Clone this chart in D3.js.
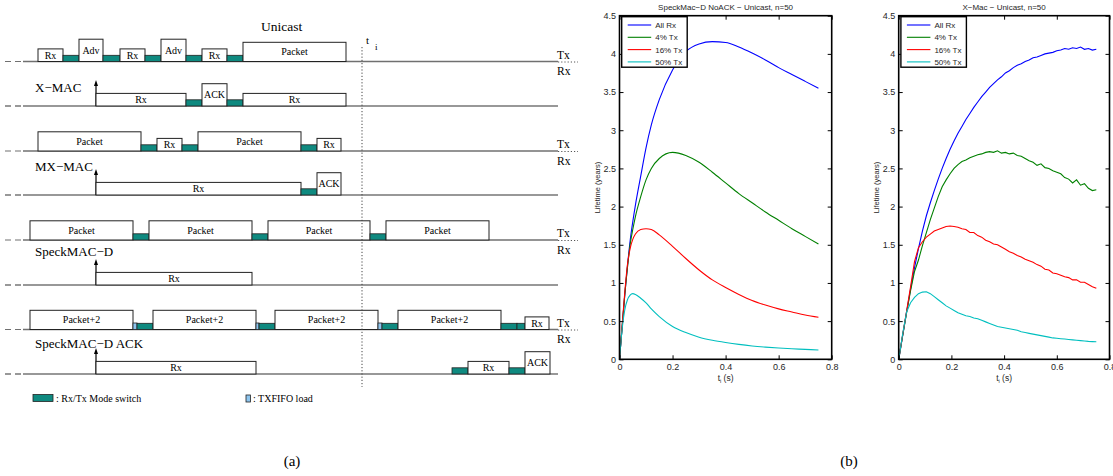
<!DOCTYPE html>
<html>
<head>
<meta charset="utf-8">
<script src="https://cdn.jsdelivr.net/npm/d3@7"></script>
<style>
body { margin: 0; background: #fff; }
svg { display: block; }
.serif { font-family: "Liberation Serif", "Times New Roman", serif; }
.sans { font-family: "Liberation Sans", Arial, Helvetica, sans-serif; }
</style>
</head>
<body>
<svg id="fig" width="1113" height="476"></svg>
<script>
// ---------- (a) timing diagram: [kind, label, start, end] in time units
var xmacTx = [["rx","Rx",8,33],["sw","",33,49],["tall","Adv",49,73],["sw","",73,90],["rx","Rx",90,115],["sw","",115,131],
  ["tall","Adv",131,156],["sw","",156,172],["rx","Rx",172,197],["sw","",197,213],["pkt","Packet",213,316]];
var xmacRx = [["rx","Rx",66,156],["sw","",156,172],["tall","ACK",172,197],["sw","",197,213],["rx","Rx",213,316]];
var mxTx = [["pkt","Packet",8,111],["sw","",111,127],["rx","Rx",127,152],["sw","",152,168],["pkt","Packet",168,271],
  ["sw","",271,287],["rx","Rx",287,311]];
var mxRx = [["rx","Rx",66,271],["sw","",271,287],["tall","ACK",287,311]];
var speckTx = [["pkt","Packet",0,103],["sw","",103,119],["pkt","Packet",119,222],["sw","",222,238],["pkt","Packet",238,340],
  ["sw","",340,356],["pkt","Packet",356,459]];
var speckRx = [["rx","Rx",66,222]];
var ackTx = [["pkt","Packet+2",0,103],["fifo","",103,107],["sw","",107,123],["pkt","Packet+2",123,226],["fifo","",226,229],
  ["sw","",229,245],["pkt","Packet+2",245,348],["fifo","",348,352],["sw","",352,368],["pkt","Packet+2",368,471],
  ["sw","",471,487],["sw","",487,495],["rx","Rx",495,519]];
var ackRx = [["rx","Rx",66,226],["sw","",422,438],["rx","Rx",438,479],["sw","",479,495],["tall","ACK",495,520]];
var wakeTime = 66;      // node wakes (arrow)
var tiTime = 332;       // t_i marker
var rowNames = ["X\u2212MAC", "MX\u2212MAC", "SpeckMAC\u2212D", "SpeckMAC\u2212D ACK"];

// ---------- (b) lifetime curves
var tSpeck = [0,0.01,0.02,0.03,0.04,0.05,0.06,0.08,0.1,0.12,0.15,0.2,0.25,0.3,0.35,0.4,0.45,0.5,0.55,0.6,0.65,0.7,0.75];
var speckAllRx = [0,0.42,0.85,1.22,1.55,1.8,2.02,2.4,2.77,3.07,3.4,3.79,4.03,4.13,4.16,4.15,4.09,4.01,3.92,3.82,3.73,3.64,3.55];
var speck4 = [0,0.42,0.85,1.2,1.5,1.7,1.87,2.13,2.35,2.5,2.63,2.71,2.67,2.58,2.45,2.31,2.17,2.05,1.93,1.82,1.71,1.61,1.51];
var speck16 = [0,0.45,0.88,1.24,1.45,1.57,1.64,1.7,1.71,1.7,1.63,1.48,1.32,1.17,1.04,0.94,0.85,0.77,0.71,0.66,0.62,0.58,0.55];
var speck50 = [0,0.4,0.65,0.78,0.84,0.86,0.85,0.8,0.74,0.66,0.56,0.43,0.35,0.29,0.25,0.22,0.195,0.175,0.16,0.148,0.138,0.13,0.122];

var tXmac = [0,0.015,0.03,0.045,0.06,0.075,0.09,0.105,0.12,0.135,0.15,0.165,0.18,0.195,0.21,0.225,0.24,0.255,0.27,0.285,
  0.3,0.315,0.33,0.345,0.36,0.375,0.39,0.405,0.42,0.435,0.45,0.465,0.48,0.495,0.51,0.525,0.54,0.555,0.57,0.585,
  0.6,0.615,0.63,0.645,0.66,0.675,0.69,0.705,0.72,0.735,0.75];
var xmacAllRx = [0,0.31,0.62,0.92,1.2,1.45,1.68,1.88,2.05,2.21,2.36,2.5,2.63,2.75,2.86,2.96,3.05,3.14,3.22,3.3,
  3.37,3.44,3.5,3.56,3.61,3.66,3.7,3.75,3.78,3.82,3.85,3.87,3.9,3.92,3.95,3.96,3.98,4.0,4.01,4.02,
  4.04,4.05,4.07,4.06,4.08,4.07,4.09,4.06,4.07,4.05,4.06];
var xmac4 = [0,0.31,0.61,0.9,1.15,1.3,1.49,1.66,1.83,1.98,2.13,2.26,2.35,2.43,2.5,2.55,2.59,2.61,2.64,2.66,
  2.68,2.69,2.71,2.72,2.71,2.73,2.7,2.71,2.69,2.7,2.67,2.66,2.63,2.6,2.58,2.54,2.56,2.51,2.5,2.47,
  2.45,2.43,2.38,2.36,2.31,2.35,2.28,2.3,2.24,2.21,2.22];
var xmac16 = [0,0.32,0.63,0.95,1.28,1.46,1.54,1.6,1.64,1.68,1.7,1.72,1.74,1.745,1.74,1.73,1.71,1.7,1.66,1.66,
  1.62,1.6,1.56,1.54,1.51,1.5,1.47,1.44,1.41,1.39,1.36,1.34,1.31,1.29,1.27,1.24,1.22,1.18,1.17,1.13,
  1.12,1.1,1.08,1.07,1.04,1.04,1.01,1.01,0.98,0.95,0.93];
var xmac50 = [0,0.33,0.62,0.74,0.81,0.86,0.88,0.885,0.86,0.82,0.78,0.74,0.7,0.67,0.64,0.61,0.59,0.57,0.56,0.54,
  0.53,0.51,0.49,0.47,0.45,0.43,0.42,0.41,0.4,0.39,0.38,0.36,0.35,0.34,0.33,0.32,0.31,0.3,0.29,0.28,
  0.275,0.27,0.265,0.26,0.255,0.25,0.245,0.24,0.235,0.232,0.23];

var legendNames = ["All Rx", "4% Tx", "16% Tx", "50% Tx"];
var lineColors = ["#0000ff", "#008000", "#ff0000", "#00bfbf"];
var xTicks = [0, 0.2, 0.4, 0.6, 0.8];
var yTicks = [0, 0.5, 1, 1.5, 2, 2.5, 3, 3.5, 4, 4.5];

var svg = d3.select("#fig");

// ================= (a) =================
var xd = d3.scaleLinear().domain([0, 530]).range([30, 560]);
var rowY = [61.5, 106, 151, 195, 240, 285, 329.5, 374];
var nameY = [92, 171, 256, 348];
var boxH = {rx: 12.6, pkt: 19.2, tall: 22.3, sw: 6.2, fifo: 6.5};
var teal = "#0f8a80", fifoCol = "#8ec5ee";
var rows = [xmacTx, xmacRx, mxTx, mxRx, speckTx, speckRx, ackTx, ackRx];

var a = svg.append("g").attr("class", "serif");

a.append("text").attr("x", 261).attr("y", 31).attr("font-size", 13.5).text("Unicast");

rows.forEach(function(segs, i) {
  var y = rowY[i], isTx = i % 2 == 0;
  var g = a.append("g");
  var col = isTx ? "#707070" : "#333";
  g.append("line").attr("x1", 5).attr("x2", 23).attr("y1", y).attr("y2", y)
    .attr("stroke", col).attr("stroke-width", 1.2).attr("stroke-dasharray", "6,4");
  g.append("line").attr("x1", xd(-7)).attr("x2", xd(528)).attr("y1", y).attr("y2", y)
    .attr("stroke", col).attr("stroke-width", isTx ? 1.6 : 1.2);

  if (isTx) {
    g.append("line").attr("x1", xd(528)).attr("x2", xd(548)).attr("y1", y + 0.5).attr("y2", y + 0.5)
      .attr("stroke", "#555").attr("stroke-dasharray", "1.2,2");
    g.append("text").attr("x", 557).attr("y", y - 3).attr("font-size", 11.5).text("Tx");
    g.append("text").attr("x", 557).attr("y", y + 13.5).attr("font-size", 11.5).text("Rx");
  } else {
    var ax = xd(wakeTime);
    g.append("line").attr("x1", ax).attr("x2", ax).attr("y1", y).attr("y2", y - 21)
      .attr("stroke", "#000").attr("stroke-width", 1.2);
    g.append("path").attr("d", "M" + (ax - 2) + "," + (y - 20) + "L" + ax + "," + (y - 26) + "L" + (ax + 2) + "," + (y - 20) + "Z")
      .attr("fill", "#000");
    g.append("text").attr("x", 35).attr("y", nameY[(i - 1) / 2]).attr("font-size", 13).text(rowNames[(i - 1) / 2]);
  }

  segs.forEach(function(s) {
    var h = boxH[s[0]];
    var x0 = xd(s[2]), x1 = xd(s[3]);
    var fill = s[0] == "sw" ? teal : (s[0] == "fifo" ? fifoCol : "#fff");
    g.append("rect").attr("x", x0).attr("y", y - h).attr("width", x1 - x0).attr("height", h)
      .attr("fill", fill).attr("stroke", "#222").attr("stroke-width", s[0] == "sw" || s[0] == "fifo" ? 0.8 : 1);
    if (s[1]) {
      g.append("text").attr("x", (x0 + x1) / 2).attr("y", y - h / 2 + 3.4)
        .attr("text-anchor", "middle").attr("font-size", 10).text(s[1]);
    }
  });
});

// t_i marker
a.append("line").attr("x1", xd(tiTime)).attr("x2", xd(tiTime)).attr("y1", 47).attr("y2", 387)
  .attr("stroke", "#444").attr("stroke-width", 1).attr("stroke-dasharray", "1.2,2");
a.append("text").attr("x", xd(tiTime) + 4).attr("y", 44).attr("font-size", 11).text("t");
a.append("text").attr("x", xd(tiTime) + 13).attr("y", 50).attr("font-size", 9).text("i");

// legend of (a)
a.append("rect").attr("x", 33).attr("y", 394.5).attr("width", 20).attr("height", 7)
  .attr("fill", teal).attr("stroke", "#222").attr("stroke-width", 0.8);
a.append("text").attr("x", 56).attr("y", 402).attr("font-size", 10).text(": Rx/Tx Mode switch");
a.append("rect").attr("x", 246).attr("y", 395).attr("width", 4.5).attr("height", 7)
  .attr("fill", fifoCol).attr("stroke", "#222").attr("stroke-width", 0.8);
a.append("text").attr("x", 253).attr("y", 402).attr("font-size", 10).text(": TXFIFO load");

// ================= (b) =================
function panel(x0, x1, title, tGrid, series, curve) {
  var x = d3.scaleLinear().domain([0, 0.8]).range([x0, x1]);
  var y = d3.scaleLinear().domain([0, 4.5]).range([359.3, 15.7]);
  var g = svg.append("g").attr("class", "sans");
  var fmt = d3.format("~g");

  var line = d3.line().x(function(d) { return x(d[0]); }).y(function(d) { return y(d[1]); }).curve(curve);
  series.forEach(function(vals, k) {
    var pts = vals.map(function(v, i) { return [tGrid[i], v]; }).filter(function(d) { return d[0] != undefined; });
    g.append("path").datum(pts).attr("d", line).attr("fill", "none")
      .attr("stroke", lineColors[k]).attr("stroke-width", 1.1);
  });

  var axB = g.append("g").attr("transform", "translate(0," + y(0) + ")")
    .call(d3.axisBottom(x).tickValues(xTicks).tickSizeInner(-4).tickSizeOuter(0).tickPadding(4).tickFormat(fmt));
  var axT = g.append("g").attr("transform", "translate(0," + y(4.5) + ")")
    .call(d3.axisTop(x).tickValues(xTicks).tickSizeInner(-4).tickSizeOuter(0).tickFormat(""));
  var axL = g.append("g").attr("transform", "translate(" + x0 + ",0)")
    .call(d3.axisLeft(y).tickValues(yTicks).tickSizeInner(-4).tickSizeOuter(0).tickPadding(3.5).tickFormat(fmt));
  var axR = g.append("g").attr("transform", "translate(" + x1 + ",0)")
    .call(d3.axisRight(y).tickValues(yTicks).tickSizeInner(-4).tickSizeOuter(0).tickFormat(""));
  [axB, axT, axL, axR].forEach(function(ax) {
    ax.select(".domain").remove();
    ax.selectAll("text").attr("font-size", 9).attr("fill", "#262626").attr("font-family", null);
    ax.selectAll("line").attr("stroke", "#000");
    ax.attr("font-family", null);
  });

  g.append("rect").attr("x", x0).attr("y", y(4.5)).attr("width", x1 - x0).attr("height", y(0) - y(4.5))
    .attr("fill", "none").attr("stroke", "#000").attr("stroke-width", 1.6);

  g.append("text").attr("x", (x0 + x1) / 2).attr("y", 10).attr("text-anchor", "middle")
    .attr("font-size", 8).attr("fill", "#262626").text(title);
  g.append("text").attr("transform", "translate(" + (x0 - 20) + "," + ((y(0) + y(4.5)) / 2) + ") rotate(-90)")
    .attr("text-anchor", "middle").attr("font-size", 7.5).attr("fill", "#262626").text("Lifetime (years)");
  var xl = g.append("text").attr("x", x(0.4)).attr("y", 380.5).attr("text-anchor", "middle")
    .attr("font-size", 8.5).attr("fill", "#262626");
  xl.append("tspan").text("t");
  xl.append("tspan").attr("font-size", 5.5).attr("dy", 2).text("i");
  xl.append("tspan").attr("dy", -2).text(" (s)");

  // legend
  var lg = g.append("g").attr("transform", "translate(" + (x0 + 2.2) + "," + (y(4.5) + 1) + ")");
  lg.append("rect").attr("width", 65.5).attr("height", 50.5).attr("fill", "#fff")
    .attr("stroke", "#000").attr("stroke-width", 1.4);
  legendNames.forEach(function(name, k) {
    var ly = 8.3 + k * 12.3;
    lg.append("line").attr("x1", 6).attr("x2", 29.5).attr("y1", ly).attr("y2", ly)
      .attr("stroke", lineColors[k]).attr("stroke-width", 1.1);
    lg.append("text").attr("x", 33.5).attr("y", ly + 3).attr("font-size", 8).attr("fill", "#262626").text(name);
  });
}

panel(619.5, 831.7, "SpeckMac\u2212D NoACK \u2212 Unicast, n=50", tSpeck,
  [speckAllRx, speck4, speck16, speck50], d3.curveMonotoneX);
panel(898.7, 1109.5, "X\u2212Mac \u2212 Unicast, n=50", tXmac,
  [xmacAllRx, xmac4, xmac16, xmac50], d3.curveLinear);

// captions
svg.append("text").attr("class", "serif").attr("x", 292).attr("y", 466).attr("text-anchor", "middle")
  .attr("font-size", 15).text("(a)");
svg.append("text").attr("class", "serif").attr("x", 849).attr("y", 466).attr("text-anchor", "middle")
  .attr("font-size", 15).text("(b)");
</script>
</body>
</html>
